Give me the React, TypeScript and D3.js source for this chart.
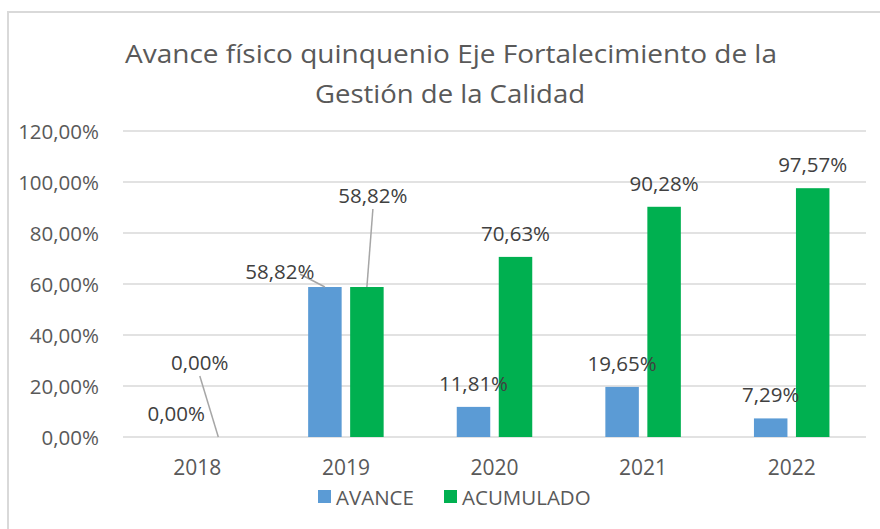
import React from "react";
import * as d3 from "d3";

const categories = ["2018", "2019", "2020", "2021", "2022"];
const avance = [0, 58.82, 11.81, 19.65, 7.29];
const acumulado = [0, 58.82, 70.63, 90.28, 97.57];
const yTicks = [0, 20, 40, 60, 80, 100, 120];
const seriesNames = ["AVANCE", "ACUMULADO"];
const colors = ["#5B9BD5", "#00B050"];

// label placement overrides (layout only): [series][category] -> {dx, dy, leader}
const labelOffsets: Record<string, { dx: number; dy: number; leader: boolean }> = {
  "1-0": { dx: -18.5, dy: -75, leader: true },
  "0-1": { dx: -45, dy: -16, leader: true },
  "1-1": { dx: 6, dy: -92, leader: true },
};

const W = 880;
const H = 529;
const FONT = "'Open Sans', 'Noto Sans', sans-serif";
const TXT = "#595959";

const fmt = (v: number) => v.toFixed(2).replace(".", ",") + "%";

export default function App() {
  const x = d3.scaleBand<string>().domain(categories).range([123, 866]).padding(0);
  const y = d3.scaleLinear().domain([0, 120]).range([437, 131]);
  const barW = 33.5;
  const off = 21;
  const series = [avance, acumulado];

  const labels: React.ReactNode[] = [];
  series.forEach((vals, si) => {
    vals.forEach((v, ci) => {
      const cx = (x(categories[ci]) as number) + x.bandwidth() / 2 + (si === 0 ? -off : off);
      const top = y(v);
      const o = labelOffsets[`${si}-${ci}`] || { dx: 0, dy: -24, leader: false };
      const lx = cx + o.dx;
      const ly = top + o.dy;
      if (o.leader) {
        let sx = lx;
        let sy = ly + 14;
        if (si === 0 && ci === 1) {
          sx = lx + 20;
          sy = ly + 3;
        }
        labels.push(
          <line key={`ll${si}-${ci}`} x1={sx} y1={sy} x2={cx} y2={top} stroke="#a6a6a6" strokeWidth={1.5} />
        );
      }
      labels.push(
        <text key={`lt${si}-${ci}`} x={lx} y={ly} textAnchor="middle" dominantBaseline="central"
          fontSize={20.5} fill="#404040" fontFamily={FONT}>
          {fmt(v)}
        </text>
      );
    });
  });

  return (
    <svg width={W} height={H} style={{ position: "absolute", left: 0, top: 0, background: "#fff" }}>
      <rect x={0} y={0} width={W} height={H} fill="#fff" />
      <rect x={8} y={12} width={900} height={560} fill="#fff" stroke="#d9d9d9" strokeWidth={2} />
      <text x={451} y={53} textAnchor="middle" dominantBaseline="central" fontSize={25} fill={TXT}
        fontFamily={FONT} textLength={652} lengthAdjust="spacingAndGlyphs">
        Avance físico quinquenio Eje Fortalecimiento de la
      </text>
      <text x={450} y={93} textAnchor="middle" dominantBaseline="central" fontSize={25} fill={TXT}
        fontFamily={FONT} textLength={270} lengthAdjust="spacingAndGlyphs">
        Gestión de la Calidad
      </text>
      {yTicks.map((t) => (
        <g key={t}>
          <line x1={123} x2={866} y1={y(t)} y2={y(t)} stroke="#d9d9d9" strokeWidth={1.5} />
          <text x={99} y={y(t)} textAnchor="end" dominantBaseline="central" fontSize={20.5} fill={TXT}
            fontFamily={FONT}>
            {t.toFixed(2).replace(".", ",") + "%"}
          </text>
        </g>
      ))}
      {series.map((vals, si) =>
        vals.map((v, ci) => {
          const cx = (x(categories[ci]) as number) + x.bandwidth() / 2 + (si === 0 ? -off : off);
          return (
            <rect key={`b${si}-${ci}`} x={cx - barW / 2} y={y(v)} width={barW} height={y(0) - y(v)}
              fill={colors[si]} />
          );
        })
      )}
      {categories.map((c) => (
        <text key={c} x={(x(c) as number) + x.bandwidth() / 2} y={467} textAnchor="middle"
          dominantBaseline="central" fontSize={21} fill={TXT} fontFamily={FONT}>
          {c}
        </text>
      ))}
      {labels}
      <g>
        <rect x={318} y={490} width={13} height={13} fill={colors[0]} />
        <text x={336} y={497} dominantBaseline="central" fontSize={20.5} fill={TXT} fontFamily={FONT}>
          {seriesNames[0]}
        </text>
        <rect x={444} y={490} width={13} height={13} fill={colors[1]} />
        <text x={462} y={497} dominantBaseline="central" fontSize={20.5} fill={TXT} fontFamily={FONT}>
          {seriesNames[1]}
        </text>
      </g>
    </svg>
  );
}
